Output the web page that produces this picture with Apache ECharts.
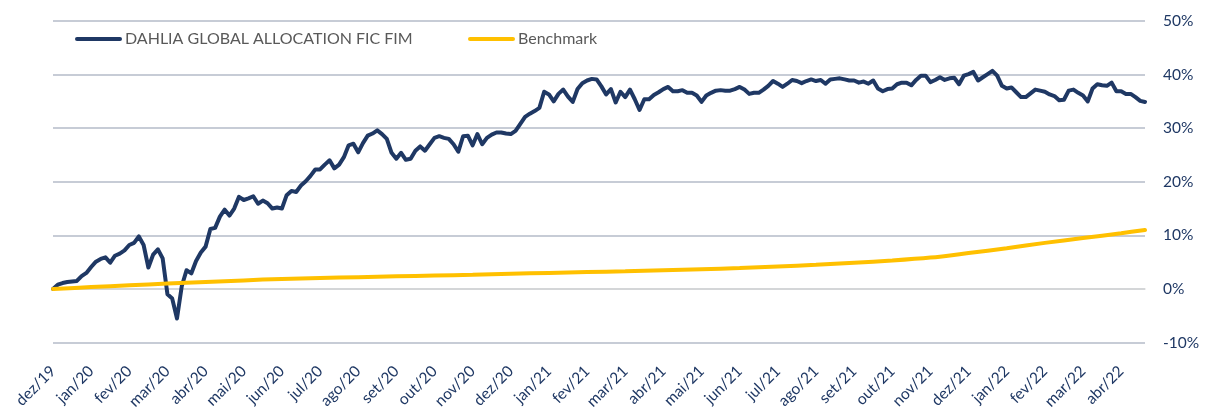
<!DOCTYPE html>
<html>
<head>
<meta charset="utf-8">
<script src="https://cdn.jsdelivr.net/npm/echarts@6/dist/echarts.min.js"></script>
<style>
html,body{margin:0;padding:0;background:#fff;}
#chart{width:1211px;height:412px;}
</style>
</head>
<body>
<div id="chart"></div>
<script>
const monthLabels = ['dez/19','jan/20','fev/20','mar/20','abr/20','mai/20','jun/20','jul/20','ago/20','set/20','out/20','nov/20','dez/20','jan/21','fev/21','mar/21','abr/21','mai/21','jun/21','jul/21','ago/21','set/21','out/21','nov/21','dez/21','jan/22','fev/22','mar/22','abr/22'];
const STEPS_PER_MONTH = 8;
const fundName = 'DAHLIA GLOBAL ALLOCATION FIC FIM';
const benchName = 'Benchmark';
const fundValues = [
0,0.8,1.1,1.3,1.4,1.5,2.4,3.0,
4.1,5.1,5.6,5.9,4.9,6.2,6.6,7.2,
8.2,8.6,9.8,8.2,4.0,6.4,7.4,5.7,
-1.0,-1.8,-5.5,0.5,3.5,2.9,5.2,6.8,
7.9,11.2,11.4,13.5,14.8,13.7,15.0,17.2,
16.6,16.9,17.3,15.9,16.5,16.0,15.0,15.2,
15.0,17.5,18.3,18.1,19.3,20.1,21.1,22.3,
22.3,23.2,24.0,22.5,23.2,24.6,26.8,27.1,
25.5,27.2,28.6,29.0,29.6,28.9,28.0,25.4,
24.3,25.4,24.1,24.3,25.8,26.6,25.8,27.0,
28.2,28.5,28.2,28.0,27.0,25.6,28.5,28.6,
26.8,28.9,27.0,28.2,28.8,29.2,29.2,29.0,
28.9,29.5,30.8,32.1,32.7,33.2,33.8,36.8,
36.3,35.0,36.4,37.2,35.9,34.9,37.3,38.4,
38.9,39.2,39.1,37.8,36.3,37.3,34.8,36.8,
35.8,37.2,35.4,33.4,35.4,35.4,36.2,36.7,
37.3,37.7,36.9,36.9,37.1,36.6,36.6,36.1,
34.9,36.1,36.6,37.0,37.1,37.0,37.0,37.3,
37.7,37.2,36.4,36.6,36.6,37.2,37.9,38.8,
38.3,37.7,38.3,39.0,38.8,38.4,38.8,39.1,
38.8,39.0,38.3,39.1,39.2,39.3,39.1,38.9,
38.9,38.5,38.7,38.3,38.9,37.4,36.9,37.3,
37.4,38.2,38.5,38.5,38.0,39.0,39.8,39.8,
38.6,39.0,39.5,39.0,39.3,39.4,38.2,39.8,
40.1,40.5,38.9,39.5,40.1,40.7,39.8,37.9,
37.4,37.6,36.7,35.8,35.8,36.5,37.2,37.0,
36.8,36.3,36.0,35.2,35.3,37.0,37.2,36.6,
36.1,35.0,37.4,38.2,38.0,37.9,38.5,36.9,
36.9,36.4,36.4,35.8,35.1,34.9
];
const benchmarkMonthly = [0,0.35,0.7,1.0,1.3,1.6,1.88,2.05,2.2,2.35,2.5,2.65,2.82,3.0,3.15,3.3,3.5,3.7,3.9,4.2,4.5,4.9,5.3,5.85,6.7,7.6,8.6,9.5,10.4];
const benchmarkLast = 11.0;
const yTicks = {min:-10, max:50, interval:10};

const categories = fundValues.map((v,i)=>{
  const k = Math.floor(i/STEPS_PER_MONTH), j = i % STEPS_PER_MONTH;
  return j === 0 ? monthLabels[k] : monthLabels[k] + '#' + j;
});
const benchData = fundValues.map(()=>null);
benchmarkMonthly.forEach((v,k)=>{ benchData[k*STEPS_PER_MONTH] = v; });
benchData[benchData.length-1] = benchmarkLast;

const capsule = 'path://M2,0 H45 A2,2 0 0 1 45,4 H2 A2,2 0 0 1 2,0 Z';
const chart = echarts.init(document.getElementById('chart'), null, {renderer:'canvas'});
chart.setOption({
  animation:false,
  backgroundColor:'#ffffff',
  textStyle:{fontFamily:'Lato'},
  grid:{left:53,right:66,top:21,bottom:67},
  legend:[
    {left:75,top:31,padding:0,data:[{name:fundName,icon:capsule}],itemWidth:47,itemHeight:5,itemGap:0,
     textStyle:{color:'#595959',fontSize:16,fontFamily:'Lato',padding:[0,0,0,-2]}},
    {left:468,top:31,padding:0,data:[{name:benchName,icon:capsule}],itemWidth:47,itemHeight:5,itemGap:0,
     textStyle:{color:'#595959',fontSize:16,fontFamily:'Lato',padding:[0,0,0,-2]}}
  ],
  xAxis:{
    type:'category',data:categories,boundaryGap:false,
    axisTick:{show:false},
    axisLine:{lineStyle:{color:'#D9D9D9',width:1.5}},
    axisLabel:{
      interval:(idx)=> idx % STEPS_PER_MONTH === 0,
      formatter:(v)=> v.split('#')[0],
      rotate:45,margin:26,color:'#1F3864',fontSize:15.5,fontFamily:'Lato'
    },
    splitLine:{show:false}
  },
  yAxis:{
    type:'value',position:'right',min:yTicks.min,max:yTicks.max,interval:yTicks.interval,
    axisLine:{show:false},axisTick:{show:false},
    axisLabel:{formatter:'{value}%',color:'#1F3864',fontSize:15.5,fontFamily:'Lato',margin:18},
    splitLine:{lineStyle:{color:'#B4BBC9',width:1.5}}
  },
  series:[
    {name:fundName,type:'line',data:fundValues,symbol:'none',
     lineStyle:{color:'#1F3864',width:4,join:'round',cap:'round'},itemStyle:{color:'#1F3864'}},
    {name:benchName,type:'line',data:benchData,symbol:'none',connectNulls:true,smooth:0.3,
     lineStyle:{color:'#FFC000',width:4,cap:'round'},itemStyle:{color:'#FFC000'}}
  ]
});
</script>
</body>
</html>
